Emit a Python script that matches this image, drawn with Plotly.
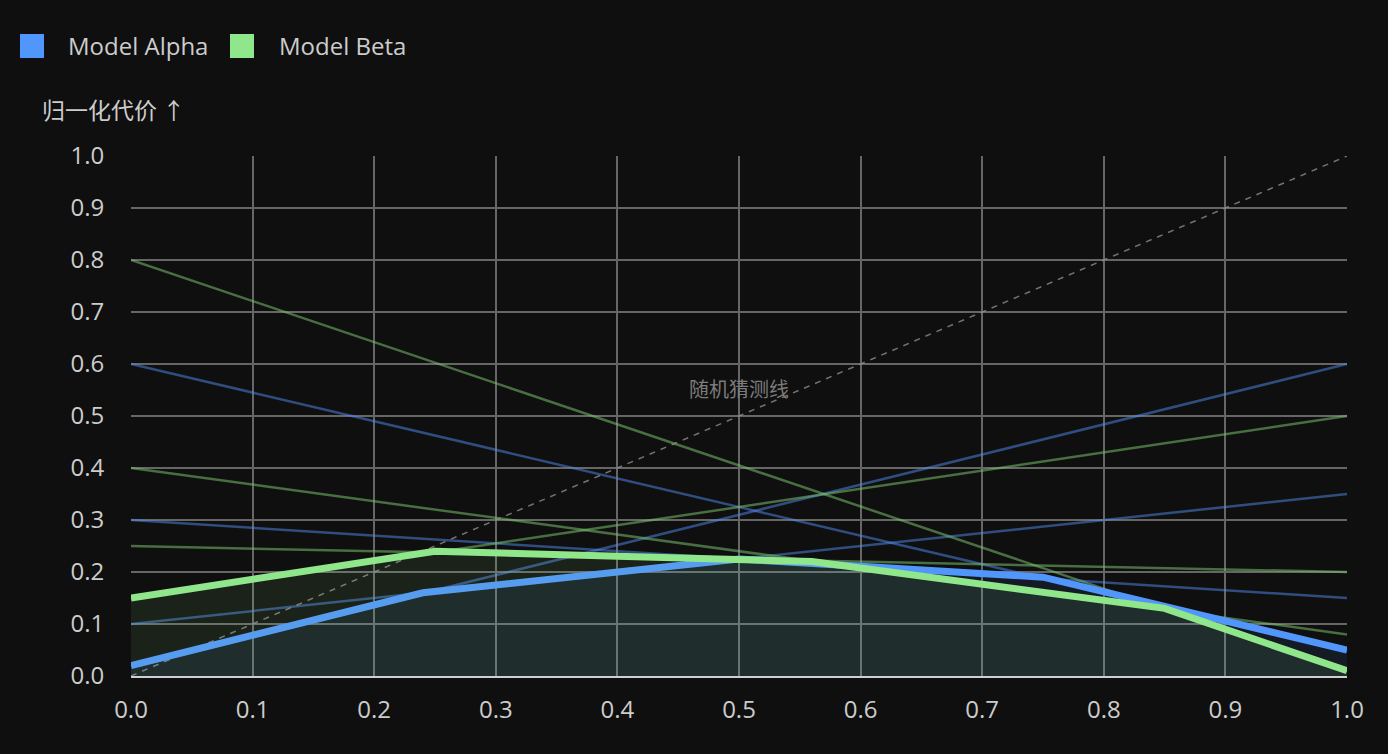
import plotly.graph_objects as go

# ---- data ----
x_ends = [0.0, 1.0]
alpha_line_start = [0.02, 0.10, 0.30, 0.60]
alpha_line_end = [0.60, 0.35, 0.15, 0.05]
beta_line_start = [0.15, 0.25, 0.40, 0.80]
beta_line_end = [0.50, 0.20, 0.08, 0.01]

alpha_env_x = [0.0, 0.24, 0.50, 0.75, 1.0]
alpha_env_y = [0.02, 0.16, 0.225, 0.19, 0.05]
beta_env_x = [0.0, 0.25, 0.56, 0.85, 1.0]
beta_env_y = [0.15, 0.24, 0.22, 0.13, 0.01]

diag_x = [0.0, 1.0]
diag_y = [0.0, 1.0]

tick_vals = [0, 0.1, 0.2, 0.3, 0.4, 0.5, 0.6, 0.7, 0.8, 0.9, 1.0]
tick_text = ["0.0", "0.1", "0.2", "0.3", "0.4", "0.5", "0.6", "0.7", "0.8", "0.9", "1.0"]

series_names = ["Model Alpha", "Model Beta"]
y_title = "归一化代价 ↑"
diag_label = "随机猜测线"

# ---- style ----
BG = "#0f0f0f"
BLUE = "#5196fb"
GREEN = "#90e68a"
TXT = "#cccccc"
W, H = 1388, 754
ML, MR, MT, MB = 131, 41, 156, 78
PW, PH = W - ML - MR, H - MT - MB


def px_x(p):
    return (p - ML) / PW


def px_y(p):
    return (H - MB - p) / PH


fig = go.Figure()

# thin threshold lines
for s, e in zip(alpha_line_start, alpha_line_end):
    fig.add_trace(go.Scatter(x=x_ends, y=[s, e], mode="lines",
                             line=dict(color="rgba(81,140,240,0.5)", width=2.5),
                             showlegend=False, hoverinfo="skip"))
for s, e in zip(beta_line_start, beta_line_end):
    fig.add_trace(go.Scatter(x=x_ends, y=[s, e], mode="lines",
                             line=dict(color="rgba(120,190,110,0.55)", width=2.5),
                             showlegend=False, hoverinfo="skip"))

# random guess line
fig.add_trace(go.Scatter(x=diag_x, y=diag_y, mode="lines",
                         line=dict(color="rgba(150,150,150,0.75)", width=1.5, dash="6px,6px"),
                         showlegend=False, hoverinfo="skip"))

# envelopes with fill
fig.add_trace(go.Scatter(x=alpha_env_x, y=alpha_env_y, mode="lines", name=series_names[0],
                         line=dict(color=BLUE, width=7),
                         fill="tozeroy", fillcolor="rgba(81,150,251,0.09)",
                         showlegend=False))
fig.add_trace(go.Scatter(x=beta_env_x, y=beta_env_y, mode="lines", name=series_names[1],
                         line=dict(color=GREEN, width=7),
                         fill="tozeroy", fillcolor="rgba(144,230,138,0.09)",
                         showlegend=False))

shapes = []
annotations = []
# manual legend
legend_items = [(20, 66, BLUE, series_names[0]), (230, 277, GREEN, series_names[1])]
for sq_x, tx, col, name in legend_items:
    shapes.append(dict(type="rect", xref="paper", yref="paper",
                       x0=px_x(sq_x), x1=px_x(sq_x + 24), y0=px_y(58), y1=px_y(34),
                       fillcolor=col, line=dict(width=0), layer="above"))
    annotations.append(dict(xref="paper", yref="paper", x=px_x(tx), y=px_y(45),
                            xanchor="left", yanchor="middle", showarrow=False, text=name,
                            font=dict(family="Open Sans, sans-serif", size=24, color=TXT)))

annotations.append(dict(xref="paper", yref="paper", x=px_x(40), y=px_y(109),
                        xanchor="left", yanchor="middle", showarrow=False, text=y_title,
                        font=dict(family="Noto Sans CJK SC, sans-serif", size=23, color=TXT)))
annotations.append(dict(xref="x", yref="y", x=0.5, y=0.552, xanchor="center", yanchor="middle",
                        showarrow=False, text=diag_label,
                        font=dict(family="Noto Sans CJK SC, sans-serif", size=20, color="#7c7c7c")))

fig.update_layout(
    width=W, height=H,
    paper_bgcolor=BG, plot_bgcolor=BG,
    margin=dict(l=ML, r=MR, t=MT, b=MB),
    showlegend=False,
    shapes=shapes, annotations=annotations,
    font=dict(family="Open Sans, sans-serif", color=TXT),
    xaxis=dict(range=[0, 1], tickvals=tick_vals, ticktext=tick_text,
               showgrid=True, gridcolor="#666666", gridwidth=1.5, zeroline=False,
               showline=True, linecolor="#d0d0d0", linewidth=2,
               ticks="outside", ticklen=11, tickcolor="rgba(0,0,0,0)",
               tickfont=dict(size=24, color=TXT), fixedrange=True),
    yaxis=dict(range=[0, 1], tickvals=tick_vals, ticktext=tick_text,
               showgrid=True, gridcolor="#666666", gridwidth=1.5, zeroline=False,
               showline=False, ticks="outside", ticklen=21, tickcolor="rgba(0,0,0,0)",
               tickfont=dict(size=24, color=TXT), fixedrange=True),
)

fig.write_html("out.html")
